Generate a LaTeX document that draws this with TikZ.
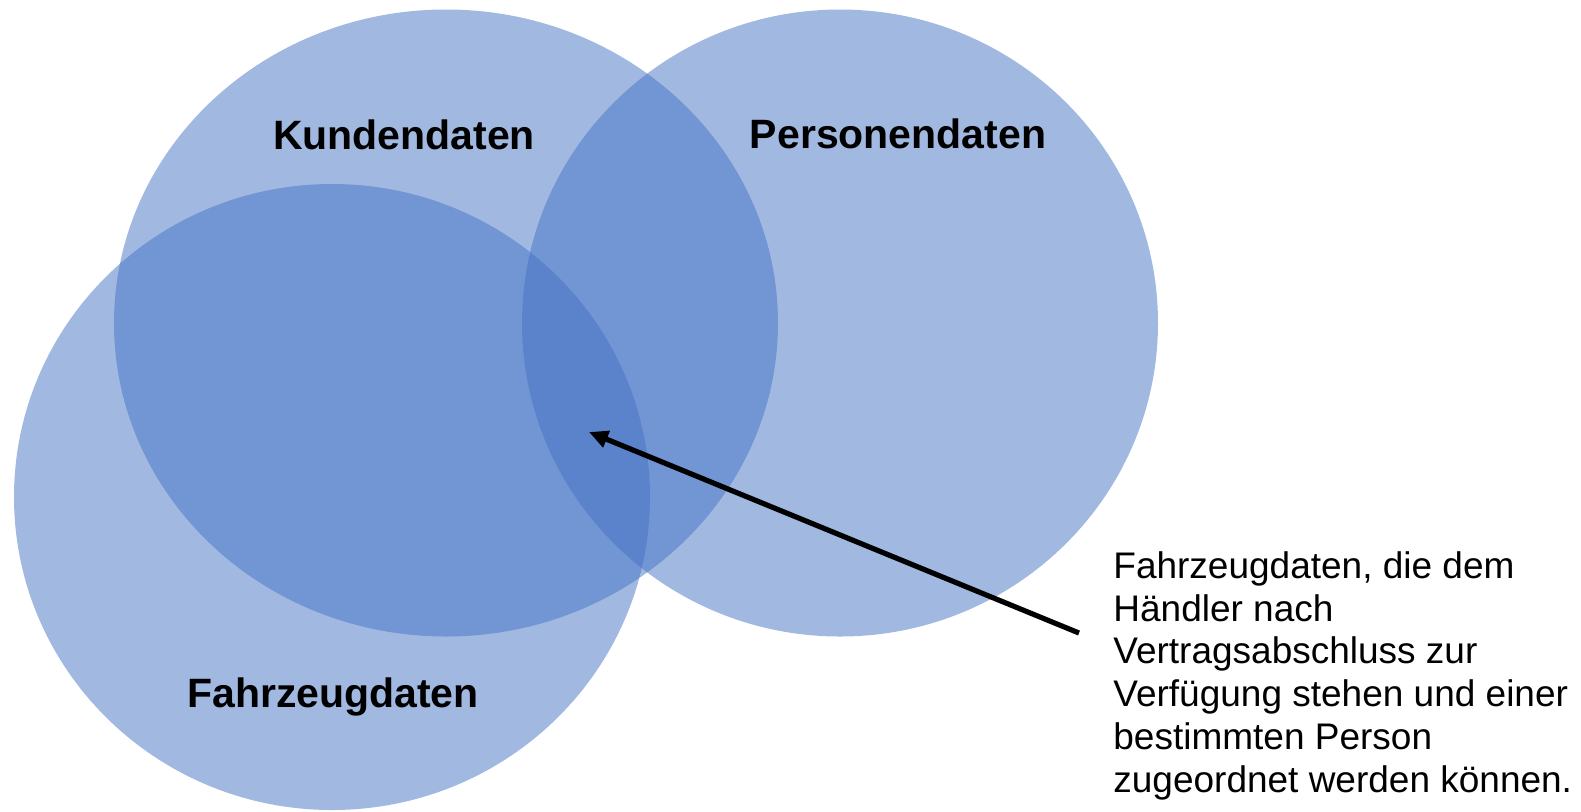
\documentclass[tikz,border=0pt]{standalone}
\usepackage{fontspec}
\setmainfont{Liberation Sans}
\usetikzlibrary{arrows.meta}
\definecolor{vennblue}{HTML}{4472C4}

\begin{document}
\begin{tikzpicture}[x=0.5pt, y=-0.5pt,
  menge/.style={fill=vennblue, fill opacity=0.5, draw=none},
  mengenname/.style={font=\fontsize{20.5}{24}\selectfont\bfseries, anchor=base, inner sep=0pt},
  erklaerung/.style={font=\fontsize{18.5}{21.4}\selectfont, align=left, anchor=north west, inner sep=0pt}]

\useasboundingbox (0,0) rectangle (1581,811);

% die drei Mengen
\fill[menge] (446,323) ellipse [x radius=332, y radius=313.5];
\fill[menge] (840,323) ellipse [x radius=318, y radius=313.5];
\fill[menge] (332,497) ellipse [x radius=318, y radius=313];

\node[mengenname] (kunden) at (404,149) {Kundendaten};
\node[mengenname] (personen) at (898,148) {Personendaten};
\node[mengenname] (fahrzeug) at (333,707) {Fahrzeugdaten};

% Erklaerung zur Schnittmenge
\node[erklaerung] (text) at (1113,551) {Fahrzeugdaten, die dem\\
Händler nach\\
Vertragsabschluss zur\\
Verfügung stehen und einer\\
bestimmten Person\\
zugeordnet werden können.};

\coordinate (pfeilstart) at (1079,633);
\coordinate (schnitt) at (589,432);
\draw[-{Triangle[length=9.5pt,width=8.5pt]}, line width=2.6pt] (pfeilstart) -- (schnitt);

\end{tikzpicture}
\end{document}
